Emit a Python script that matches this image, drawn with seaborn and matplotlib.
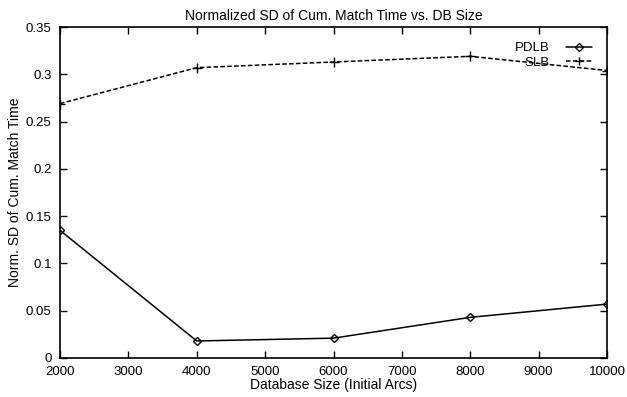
import matplotlib
matplotlib.use("Agg")
import matplotlib.pyplot as plt
import seaborn as sns
import pandas as pd

db_size = [2000, 4000, 6000, 8000, 10000]
pdlb = [0.135, 0.018, 0.021, 0.043, 0.057]
slb = [0.269, 0.307, 0.313, 0.319, 0.304]
x_ticks = [2000, 3000, 4000, 5000, 6000, 7000, 8000, 9000, 10000]
y_ticks = [0, 0.05, 0.1, 0.15, 0.2, 0.25, 0.3, 0.35]
y_tick_labels = ["0", "0.05", "0.1", "0.15", "0.2", "0.25", "0.3", "0.35"]

df_p = pd.DataFrame({"size": db_size, "val": pdlb})
df_s = pd.DataFrame({"size": db_size, "val": slb})

sns.set_style("ticks")
plt.rcParams['font.family'] = ['Liberation Sans', 'DejaVu Sans']
plt.rcParams['text.color'] = 'black'
plt.rcParams['axes.labelcolor'] = 'black'
plt.rcParams['xtick.color'] = 'black'
plt.rcParams['ytick.color'] = 'black'
plt.rcParams['axes.edgecolor'] = 'black'

fig = plt.figure(figsize=(6.27, 3.97), dpi=100)
ax = fig.add_axes([60 / 627, 39 / 397, 547 / 627, 331 / 397])

sns.lineplot(data=df_p, x="size", y="val", color="black", marker="D",
             markersize=4.5, linewidth=1.1, ax=ax, label="PDLB",
             markerfacecolor="none", markeredgecolor="black", markeredgewidth=1.0)
sns.lineplot(data=df_s, x="size", y="val", color="black", marker="+",
             markersize=7, linewidth=1.1, ax=ax, label="SLB", linestyle=(0, (3, 1.5)),
             markeredgecolor="black", markeredgewidth=1.0)

ax.set_xlim(2000, 10000)
ax.set_ylim(0, 0.35)
ax.set_xticks(x_ticks)
ax.set_xticklabels([str(t) for t in x_ticks], fontsize=9.5)
ax.set_yticks(y_ticks)
ax.set_yticklabels(y_tick_labels, fontsize=9.5)
ax.tick_params(direction="in", top=True, right=True, length=5, width=1)
ax.tick_params(axis="x", pad=6)
ax.tick_params(axis="y", pad=6)
for s in ax.spines.values():
    s.set_linewidth(1.2)
    s.set_visible(True)

ax.set_title("Normalized SD of Cum. Match Time vs. DB Size", fontsize=10, pad=5)
ax.set_xlabel("Database Size (Initial Arcs)", fontsize=10, labelpad=0)
ax.set_ylabel("Norm. SD of Cum. Match Time", fontsize=10, labelpad=3)

leg = ax.legend(loc="upper right", bbox_to_anchor=(0.9726, 0.955), frameon=False,
                markerfirst=False, fontsize=9.5, handlelength=2.0, borderaxespad=0,
                borderpad=0, labelspacing=0.2, handletextpad=1.2, markerscale=0.8)

fig.savefig("out.png", dpi=100)
